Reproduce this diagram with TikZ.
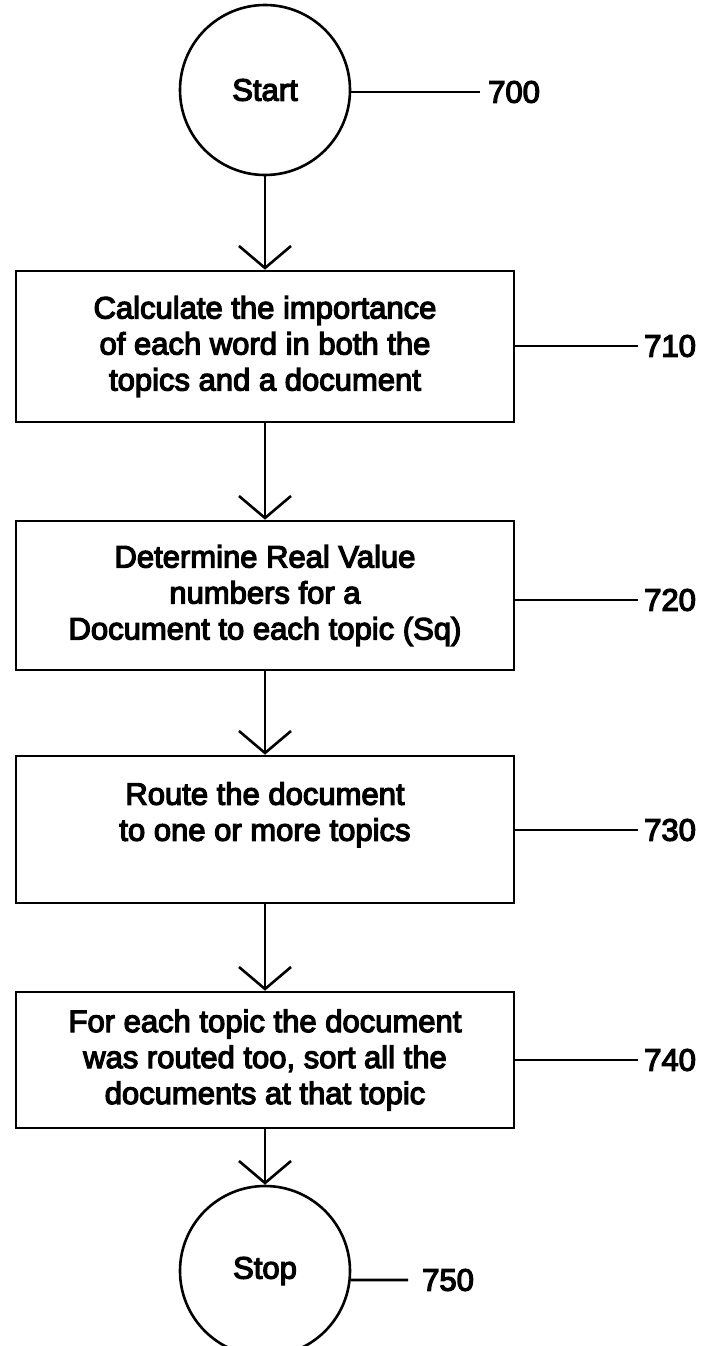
\documentclass[tikz,border=0pt]{standalone}
\usepackage{fontspec}
\newfontface\diagfont{Liberation Sans}[FakeBold=4]
\usetikzlibrary{arrows.meta}
\begin{document}
\begin{tikzpicture}[x=1pt,y=-1pt,
  txt/.style={font=\diagfont\fontsize{31}{36}\selectfont},
  stepbox/.style={txt, draw, line width=2.6pt, minimum width=498pt, align=center, inner sep=0pt},
  termcirc/.style={txt, draw, circle, line width=2.6pt, minimum size=170pt, inner sep=0pt},
  flow/.style={line width=2.6pt, -{Straight Barb[length=22pt, width=52pt, line width=2.6pt]}},
  lbl/.style={line width=2.6pt},
  lbltext/.style={txt, anchor=west, inner sep=0pt}]
\useasboundingbox (0,0) rectangle (711,1346);

\node[termcirc] (start) at (265,90) {Start};
\node[stepbox, minimum height=151pt] (s710) at (265,346.5) {Calculate the importance\\of each word in both the\\topics and a document};
\node[stepbox, minimum height=149pt] (s720) at (265,595.5) {Determine Real Value\\numbers for a\\Document to each topic (Sq)};
\node[stepbox, minimum height=147pt] (s730) at (265,829.5) {Route the document\\to one or more topics\\\mbox{}};
\node[stepbox, minimum height=136pt] (s740) at (265,1060) {For each topic the document\\was routed too, sort all the\\documents at that topic};
\node[termcirc] (stop) at (265,1271) {Stop};

\draw[flow] (start) -- (s710);
\draw[flow] (s710) -- (s720);
\draw[flow] (s720) -- (s730);
\draw[flow] (s730) -- (s740);
\draw[flow] (s740) -- (stop);

\coordinate (e700) at (480,92);
\coordinate (e710) at (638,346);
\coordinate (e720) at (638,600);
\coordinate (e730) at (638,830);
\coordinate (e740) at (638,1060);
\coordinate (e750) at (408,1280);

\draw[lbl] (start.east |- e700) -- (e700);
\draw[lbl] (s710.east |- e710) -- (e710);
\draw[lbl] (s720.east |- e720) -- (e720);
\draw[lbl] (s730.east |- e730) -- (e730);
\draw[lbl] (s740.east |- e740) -- (e740);
\draw[lbl] (stop.-6) -- (e750);

\node[lbltext] (t700) at ([xshift=8pt]e700) {700};
\node[lbltext] (t710) at ([xshift=6pt]e710) {710};
\node[lbltext] (t720) at ([xshift=6pt]e720) {720};
\node[lbltext] (t730) at ([xshift=6pt]e730) {730};
\node[lbltext] (t740) at ([xshift=6pt]e740) {740};
\node[lbltext] (t750) at ([xshift=14pt]e750) {750};
\end{tikzpicture}
\end{document}
